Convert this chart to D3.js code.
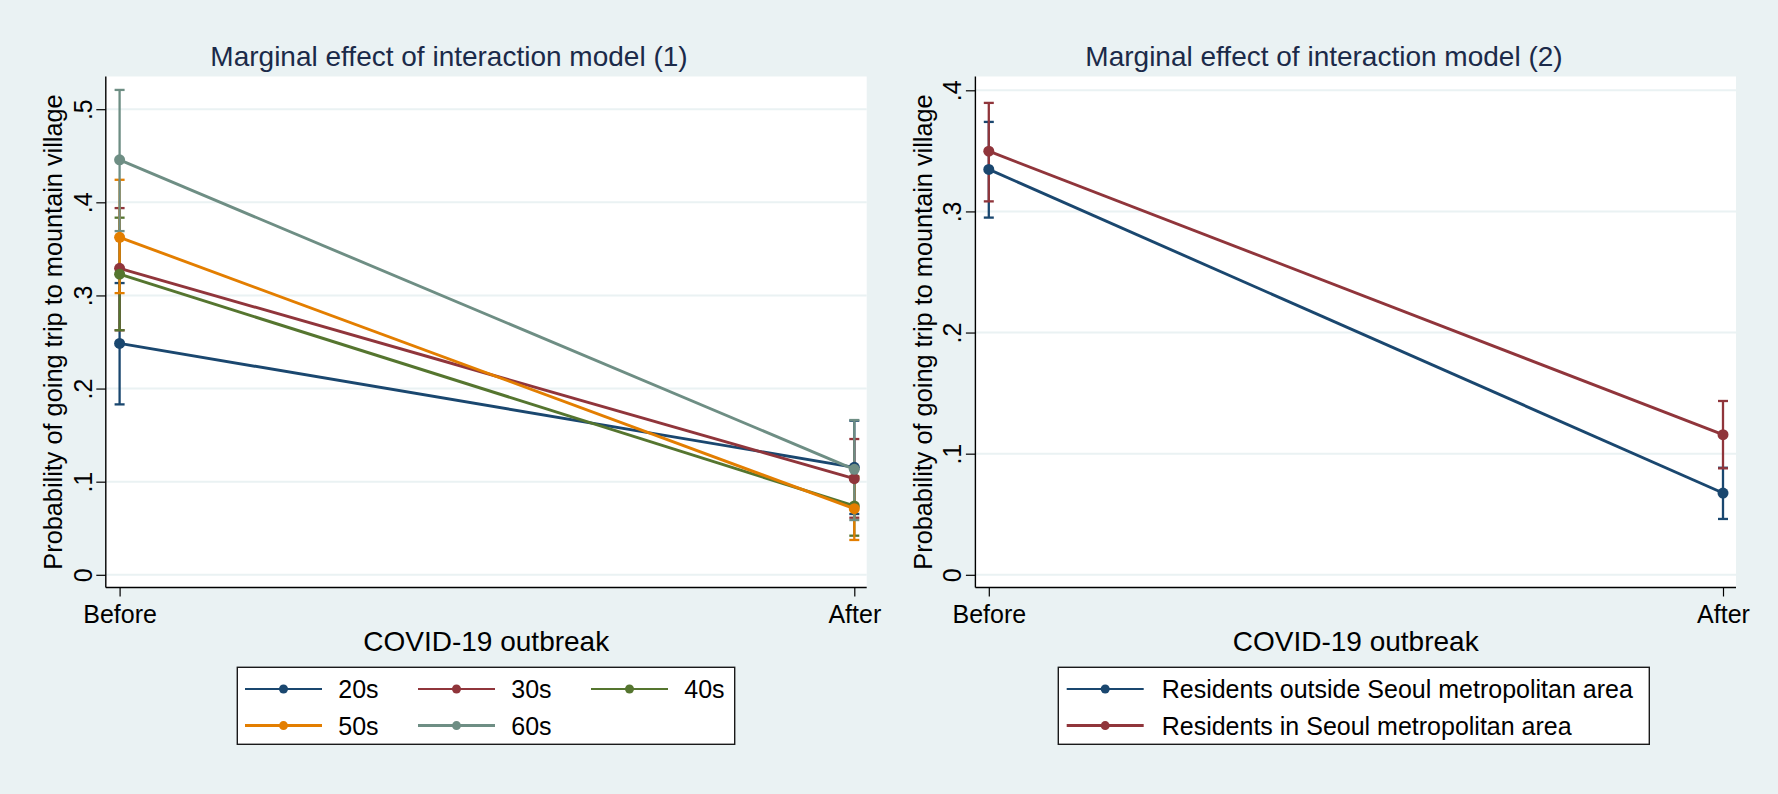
<!DOCTYPE html>
<html>
<head>
<meta charset="utf-8">
<script src="https://cdn.jsdelivr.net/npm/d3@7"></script>
<style>
html, body { margin: 0; padding: 0; background: #EAF2F3; }
svg { display: block; }
text { font-family: "Liberation Sans", Arial, sans-serif; }
</style>
</head>
<body>
<svg id="chart" width="1778" height="794"></svg>
<script>
// ---------- data ----------
const periods = ["Before", "After"];

const ageGroups = ["20s", "30s", "40s", "50s", "60s"];
const est20s = [0.2485, 0.1154], lo20s = [0.1830, 0.0653], hi20s = [0.3133, 0.1655];
const est30s = [0.3291, 0.1032], lo30s = [0.2626, 0.0613], hi30s = [0.3938, 0.1458];
const est40s = [0.3228, 0.0739], lo40s = [0.2626, 0.0420], hi40s = [0.3835, 0.1060];
const est50s = [0.3624, 0.0710], lo50s = [0.3025, 0.0374], hi50s = [0.4242, 0.1050];
const est60s = [0.4456, 0.1133], lo60s = [0.3691, 0.0588], hi60s = [0.5207, 0.1662];

const regionGroups = ["Residents outside Seoul metropolitan area", "Residents in Seoul metropolitan area"];
const estOutside = [0.3347, 0.0675], loOutside = [0.2949, 0.0461], hiOutside = [0.3739, 0.0884];
const estSeoul   = [0.3497, 0.1157], loSeoul   = [0.3083, 0.0879], hiSeoul   = [0.3896, 0.1435];

const ticksLeft  = [0, 0.1, 0.2, 0.3, 0.4, 0.5];
const ticksRight = [0, 0.1, 0.2, 0.3, 0.4];

const titleLeft  = "Marginal effect of interaction model (1)";
const titleRight = "Marginal effect of interaction model (2)";
const xTitle = "COVID-19 outbreak";
const yTitle = "Probability of going trip to mountain village";

// ---------- styles ----------
const colors = ["#1a476f", "#90353b", "#55752f", "#e37e00", "#6e8e84"];
const bg = "#EAF2F3";
const fontTick = 25, fontAxisTitle = 28, fontTitle = 28, fontLegend = 25;

const svg = d3.select("#chart");
svg.append("rect").attr("width", 1778).attr("height", 794).attr("fill", bg);

const fmt = d => d === 0 ? "0" : d3.format(".1f")(d).replace(/^0/, "");

function drawPanel(cfg) {
  const g = svg.append("g");
  const x = d3.scalePoint().domain(periods).range([cfg.xBefore, cfg.xAfter]);
  const y = d3.scaleLinear().domain([0, cfg.yMax]).range([cfg.yZero, cfg.yTopTick]);

  // plot region
  g.append("rect").attr("x", cfg.x0).attr("y", cfg.y0)
    .attr("width", cfg.x1 - cfg.x0).attr("height", cfg.y1 - cfg.y0).attr("fill", "#fff");

  // gridlines
  g.selectAll("line.grid").data(cfg.ticks).enter().append("line")
    .attr("x1", cfg.x0).attr("x2", cfg.x1)
    .attr("y1", d => y(d)).attr("y2", d => y(d))
    .attr("stroke", bg).attr("stroke-width", 2);

  // y axis
  const yAxis = d3.axisLeft(y).tickValues(cfg.ticks).tickFormat(fmt).tickSize(9.5).tickPadding(4);
  const ya = g.append("g").attr("transform", `translate(${cfg.x0},0)`).call(yAxis);
  ya.select(".domain").attr("d", `M0,${cfg.y0}V${cfg.y1}`).attr("stroke", "#000").attr("stroke-width", 1.4);
  ya.selectAll(".tick line").attr("stroke", "#000").attr("stroke-width", 1.2);
  ya.selectAll(".tick text")
    .attr("font-size", fontTick).attr("fill", "#000")
    .attr("x", null).attr("dy", null)
    .attr("text-anchor", "middle")
    .attr("transform", "translate(-14,0) rotate(-90)")
    .attr("y", 0);

  // x axis
  const xAxis = d3.axisBottom(x).tickSize(9).tickPadding(9);
  const xa = g.append("g").attr("transform", `translate(0,${cfg.y1})`).call(xAxis);
  xa.select(".domain").attr("d", `M${cfg.x0},0H${cfg.x1}`).attr("stroke", "#000").attr("stroke-width", 1.4);
  xa.selectAll(".tick line").attr("stroke", "#000").attr("stroke-width", 1.2);
  xa.selectAll(".tick text").attr("font-size", fontTick).attr("fill", "#000");

  // titles
  g.append("text").attr("x", cfg.titleX).attr("y", 66).attr("text-anchor", "middle")
    .attr("font-size", fontTitle).attr("fill", "#1b2a49").text(cfg.title);
  g.append("text").attr("x", (cfg.x0 + cfg.x1) / 2).attr("y", 651).attr("text-anchor", "middle")
    .attr("font-size", fontAxisTitle).attr("fill", "#000").text(xTitle);
  g.append("text")
    .attr("transform", `translate(${cfg.yTitleX},${(cfg.y0 + cfg.y1) / 2}) rotate(-90)`)
    .attr("text-anchor", "middle").attr("font-size", 25.3).attr("fill", "#000").text(yTitle);

  // series: error bars first
  cfg.series.forEach((s, i) => {
    const c = colors[i];
    const sg = g.append("g");
    periods.forEach((p, j) => {
      sg.append("line").attr("x1", x(p)).attr("x2", x(p)).attr("y1", y(s.lo[j])).attr("y2", y(s.hi[j]))
        .attr("stroke", c).attr("stroke-width", 2.3);
      [s.lo[j], s.hi[j]].forEach(v => {
        sg.append("line").attr("x1", x(p) - 5).attr("x2", x(p) + 5).attr("y1", y(v)).attr("y2", y(v))
          .attr("stroke", c).attr("stroke-width", 2.3);
      });
    });
  });
  // lines + points
  const line = d3.line().x((d, j) => x(periods[j])).y(d => y(d));
  cfg.series.forEach((s, i) => {
    const c = colors[i];
    g.append("path").attr("d", line(s.est)).attr("fill", "none").attr("stroke", c).attr("stroke-width", 2.9);
    g.selectAll(null).data(s.est).enter().append("circle")
      .attr("cx", (d, j) => x(periods[j])).attr("cy", d => y(d)).attr("r", 5.5).attr("fill", c);
  });

  // legend
  const L = cfg.legend;
  g.append("rect").attr("x", L.x0).attr("y", 667.3).attr("width", L.x1 - L.x0).attr("height", 77)
    .attr("fill", "#fff").attr("stroke", "#1a1a1a").attr("stroke-width", 1.4);
  cfg.series.forEach((s, i) => {
    const col = i % L.cols, row = Math.floor(i / L.cols);
    const sx = L.symX + col * L.colStep;
    const cy = 689 + row * 36.6;
    g.append("line").attr("x1", sx).attr("x2", sx + 77).attr("y1", cy).attr("y2", cy)
      .attr("stroke", colors[i]).attr("stroke-width", row === 0 ? 2.2 : 3);
    g.append("circle").attr("cx", sx + 38.5).attr("cy", cy).attr("r", 4.5).attr("fill", colors[i]);
    g.append("text").attr("x", sx + L.textOff).attr("y", cy).attr("dy", "0.36em")
      .attr("font-size", fontLegend).attr("fill", "#000").text(s.name);
  });
}

drawPanel({
  x0: 105.8, x1: 866.7, y0: 76.5, y1: 587.5,
  xBefore: 119.6, xAfter: 854.3,
  yZero: 574.8, yTopTick: 109.2, yMax: 0.5, ticks: ticksLeft,
  title: titleLeft, titleX: 449, yTitleX: 62,
  series: [
    { name: ageGroups[0], est: est20s, lo: lo20s, hi: hi20s },
    { name: ageGroups[1], est: est30s, lo: lo30s, hi: hi30s },
    { name: ageGroups[2], est: est40s, lo: lo40s, hi: hi40s },
    { name: ageGroups[3], est: est50s, lo: lo50s, hi: hi50s },
    { name: ageGroups[4], est: est60s, lo: lo60s, hi: hi60s }
  ],
  legend: { x0: 237.3, x1: 734.7, cols: 3, symX: 245, colStep: 173, textOff: 93.3 }
});

drawPanel({
  x0: 975.4, x1: 1736, y0: 76.5, y1: 587.5,
  xBefore: 988.8, xAfter: 1723,
  yZero: 574.8, yTopTick: 90.3, yMax: 0.4, ticks: ticksRight,
  title: titleRight, titleX: 1324, yTitleX: 932,
  series: [
    { name: regionGroups[0], est: estOutside, lo: loOutside, hi: hiOutside },
    { name: regionGroups[1], est: estSeoul, lo: loSeoul, hi: hiSeoul }
  ],
  legend: { x0: 1058.3, x1: 1649.3, cols: 1, symX: 1066.7, colStep: 0, textOff: 95 }
});
</script>
</body>
</html>
